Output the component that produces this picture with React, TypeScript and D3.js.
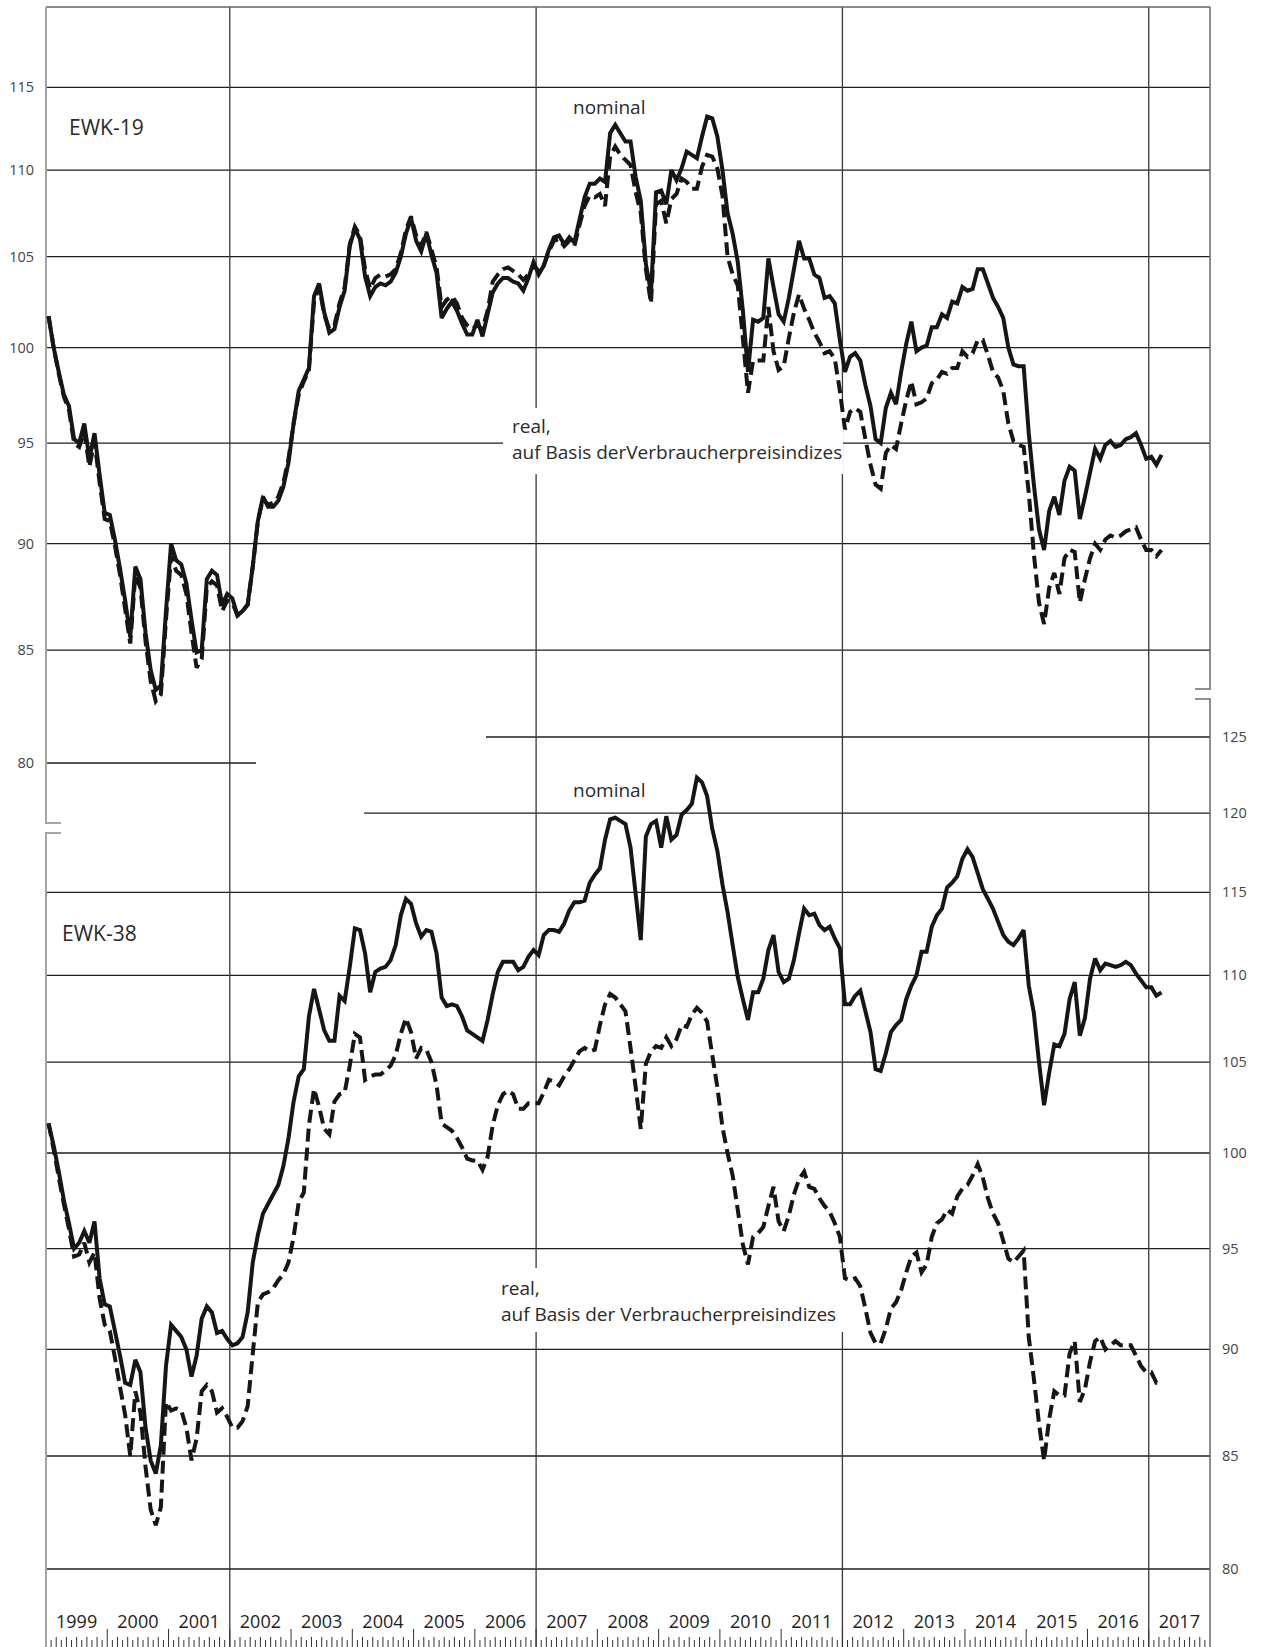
import { useEffect, useRef } from "react";
import * as d3 from "d3";

// Monthly index values, Jan 1999 .. Mar 2017 (1999 Q1 = 100)
const YEARS = d3.range(1999, 2018).map(String);
const TOP_TICKS = [115, 110, 105, 100, 95, 90, 85, 80];
const BOTTOM_TICKS = [125, 120, 115, 110, 105, 100, 95, 90, 85, 80];

const NOMINAL_19 = [
  101.7, 100.0, 98.7, 97.5, 96.9, 95.2, 95.0, 96.0, 94.2, 95.5, 93.4, 91.5,
  91.4, 90.2, 88.8, 87.3, 85.6, 88.9, 88.3, 85.8, 84.1, 83.2, 83.4, 86.8,
  90.0, 89.2, 89.0, 88.1, 86.4, 84.9, 85.0, 88.3, 88.7, 88.5, 87.1, 87.6,
  87.4, 86.6, 86.8, 87.1, 88.9, 91.1, 92.3, 91.8, 91.8, 92.1, 92.8, 94.0,
  96.0, 97.7, 98.3, 98.9, 102.8, 103.5, 101.9, 100.8, 101.0, 102.2, 103.1, 105.6,
  106.6, 106.0, 103.9, 102.8, 103.3, 103.5, 103.4, 103.6, 104.1, 105.0, 106.3, 107.2,
  105.9, 105.3, 106.3, 105.1, 104.1, 101.6, 102.1, 102.5, 102.0, 101.3, 100.7, 100.7,
  101.5, 100.6, 101.8, 103.0, 103.5, 103.8, 103.8, 103.6, 103.5, 103.1, 103.8, 104.7,
  104.0, 104.5, 105.4, 106.1, 106.2, 105.7, 106.1, 105.8, 107.1, 108.4, 109.2, 109.2,
  109.5, 109.3, 112.2, 112.7, 112.2, 111.7, 111.7, 109.6, 108.2, 104.6, 103.0, 108.7,
  108.8, 108.0, 110.0, 109.4, 110.1, 111.1, 110.9, 110.7, 112.0, 113.2, 113.1, 112.0,
  110.0, 107.5, 106.3, 104.7, 102.0, 98.7, 101.5, 101.4, 101.6, 104.9, 103.3, 101.8,
  101.4, 102.7, 104.3, 105.9, 104.9, 104.9, 104.0, 103.8, 102.7, 102.8, 102.4, 100.4,
  98.7, 99.5, 99.7, 99.3, 98.0, 96.9, 95.2, 95.0, 96.8, 97.6, 97.0, 98.7,
  100.2, 101.4, 99.8, 100.0, 100.1, 101.1, 101.1, 101.8, 101.6, 102.5, 102.4, 103.3,
  103.1, 103.2, 104.3, 104.3, 103.5, 102.7, 102.2, 101.6, 100.0, 99.1, 99.0, 99.0,
  95.5, 92.9, 90.7, 89.7, 91.6, 92.3, 91.4, 93.1, 93.8, 93.6, 91.2, 92.3,
  93.5, 94.7, 94.2, 94.9, 95.1, 94.8, 94.9, 95.2, 95.3, 95.5, 94.9, 94.2,
  94.3, 93.9, 94.4,
];

const REAL_19 = [
  101.7, 100.0, 98.6, 97.4, 96.7, 95.0, 94.8, 95.6, 93.8, 95.1, 93.0, 91.2,
  91.1, 89.9, 88.5, 86.9, 85.3, 88.5, 87.9, 85.4, 83.6, 82.7, 83.0, 86.4,
  89.4, 88.7, 88.5, 87.6, 85.8, 84.2, 84.6, 87.9, 88.2, 88.0, 86.8, 87.3,
  87.2, 86.6, 86.8, 87.1, 88.9, 91.1, 92.2, 91.9, 92.0, 92.3, 93.0, 94.2,
  96.0, 97.5, 98.2, 98.8, 102.5, 103.3, 101.8, 101.0, 101.2, 102.4, 103.3, 105.7,
  106.7, 106.2, 104.3, 103.2, 103.8, 104.0, 103.9, 104.0, 104.3, 105.2, 106.5, 107.3,
  106.2, 105.6, 106.4, 105.4, 104.4, 102.2, 102.6, 102.8, 102.4, 101.6, 101.2, 101.0,
  101.2, 101.0, 102.0, 103.6, 104.0, 104.3, 104.4, 104.2, 104.0, 103.7, 104.0, 104.5,
  104.2, 104.5, 105.3, 105.9, 106.0, 105.6, 105.9, 105.6, 106.8, 107.9, 108.5, 108.4,
  108.6, 107.9, 110.8, 111.4, 110.9, 110.6, 110.3, 108.7, 107.5, 104.3, 102.4, 108.0,
  108.2, 106.9, 108.3, 108.6, 109.5, 109.3, 108.9, 108.9, 110.2, 110.9, 110.8, 110.1,
  108.5, 105.0, 104.0, 103.4, 100.5, 97.6, 99.3, 99.3, 99.3, 102.2, 99.8, 98.8,
  99.0, 100.5, 101.9, 102.9, 102.1, 101.5, 100.8, 100.3, 99.7, 99.8, 99.4, 97.7,
  95.7, 96.6, 96.8, 96.6, 95.2, 93.9, 92.9, 92.7, 94.5, 94.9, 94.7, 96.0,
  97.2, 98.2, 97.0, 97.1, 97.3, 98.1, 98.3, 98.7, 98.6, 98.9, 98.9, 99.8,
  99.5, 99.7, 100.4, 100.4, 99.6, 98.7, 98.4, 97.7, 96.0, 95.1, 94.9, 94.8,
  92.5, 89.5, 87.2, 86.2, 87.9, 88.6, 87.6, 89.3, 89.7, 89.6, 87.2, 88.3,
  89.3, 90.0, 89.7, 90.2, 90.4, 90.3, 90.4, 90.6, 90.7, 90.8, 90.2, 89.7,
  89.7, 89.4, 89.7,
];

const NOMINAL_38 = [
  101.6, 100.4, 99.0, 97.5, 96.3, 95.0, 95.3, 95.9, 95.3, 96.4, 93.5, 92.2,
  92.1, 90.9, 89.7, 88.4, 88.3, 89.5, 88.9, 86.3, 84.8, 84.2, 85.5, 89.2,
  91.2, 90.9, 90.6, 90.0, 88.7, 89.7, 91.5, 92.1, 91.8, 90.8, 90.9, 90.5,
  90.2, 90.3, 90.6, 91.8, 94.3, 95.7, 96.8, 97.3, 97.8, 98.3, 99.3, 100.8,
  102.8, 104.2, 104.6, 107.6, 109.2, 108.0, 106.8, 106.2, 106.2, 108.8, 108.5, 110.5,
  112.8, 112.7, 111.3, 109.0, 110.2, 110.4, 110.5, 110.9, 111.8, 113.6, 114.6, 114.3,
  113.1, 112.3, 112.7, 112.6, 111.3, 108.7, 108.2, 108.3, 108.2, 107.6, 106.8, 106.6,
  106.4, 106.2, 107.4, 108.9, 110.2, 110.8, 110.8, 110.8, 110.3, 110.5, 111.1, 111.5,
  111.2, 112.4, 112.7, 112.7, 112.6, 113.1, 113.9, 114.4, 114.4, 114.5, 115.6, 116.1,
  116.5, 118.3, 119.6, 119.7, 119.5, 119.3, 117.8, 114.9, 112.1, 118.5, 119.3, 119.5,
  117.8, 119.8, 118.3, 118.6, 119.9, 120.2, 120.6, 122.3, 122.0, 121.1, 119.0, 117.6,
  115.5, 113.8, 111.8, 109.9, 108.6, 107.4, 109.0, 109.0, 109.8, 111.5, 112.4, 110.2,
  109.6, 109.8, 110.9, 112.5, 114.0, 113.6, 113.7, 113.0, 112.7, 112.9, 112.2, 111.6,
  108.3, 108.3, 108.8, 109.1, 107.9, 106.7, 104.6, 104.5, 105.5, 106.7, 107.1, 107.4,
  108.6, 109.4, 110.0, 111.4, 111.4, 112.9, 113.6, 114.0, 115.3, 115.6, 116.0, 117.1,
  117.7, 117.2, 116.2, 115.2, 114.6, 114.0, 113.2, 112.4, 112.0, 111.8, 112.2, 112.7,
  109.4, 107.8, 105.0, 102.6, 104.4, 106.0, 105.9, 106.6, 108.6, 109.6, 106.5, 107.5,
  109.8, 111.0, 110.3, 110.7, 110.6, 110.5, 110.6, 110.8, 110.6, 110.1, 109.7, 109.3,
  109.3, 108.8, 109.0,
];

const REAL_38 = [
  101.6, 100.2, 98.7, 97.3, 96.0, 94.6, 94.7, 95.3, 94.3, 94.8, 92.5, 91.2,
  90.9, 89.6, 88.2, 86.9, 85.0, 88.0, 87.0, 84.5, 82.6, 81.9, 82.7, 87.5,
  87.1, 87.2, 87.1, 86.3, 84.8, 85.8, 88.0, 88.3, 88.0, 87.0, 87.2, 86.8,
  86.3, 86.3, 86.6, 87.3, 89.8, 92.3, 92.7, 92.8, 93.0, 93.4, 93.7, 94.3,
  95.6, 97.4, 97.9, 101.5, 103.5, 102.5, 101.3, 101.0, 102.8, 103.2, 103.3, 104.8,
  106.6, 106.4, 104.0, 104.2, 104.3, 104.3, 104.5, 104.8, 105.4, 106.6, 107.5, 106.7,
  105.2, 105.8, 105.7, 105.0, 103.7, 101.6, 101.4, 101.2, 100.8, 100.3, 99.7, 99.6,
  99.6, 99.1, 99.8, 101.5, 102.6, 103.2, 103.4, 103.2, 102.4, 102.4, 102.7, 102.7,
  102.7, 103.3, 104.0, 103.9, 103.7, 104.2, 104.6, 105.1, 105.6, 105.8, 105.6, 105.7,
  107.1, 108.3, 108.9, 108.7, 108.3, 107.9, 105.8, 103.6, 101.3, 104.9, 105.6, 105.9,
  105.8, 106.4, 105.9, 106.3, 107.1, 107.0, 107.7, 108.1, 107.8, 107.3, 105.4, 103.6,
  101.4, 100.0, 98.8, 97.0, 95.2, 94.2, 95.6, 95.8, 96.1, 97.2, 98.2, 96.4,
  95.9, 96.7, 97.8, 98.6, 99.0, 98.2, 98.1, 97.6, 97.2, 96.9, 96.3, 95.6,
  93.5, 93.4, 93.5, 93.1, 92.0, 90.8, 90.3, 90.3, 91.0, 92.0, 92.3, 92.9,
  93.8, 94.6, 94.8, 93.8, 94.2, 95.6, 96.3, 96.5, 97.0, 96.8, 97.7, 98.1,
  98.3, 98.8, 99.4, 98.7, 97.6, 96.8, 96.3, 95.4, 94.5, 94.3, 94.6, 94.9,
  90.6, 88.6, 86.5, 84.8, 86.7, 88.0, 87.8, 87.8, 89.8, 90.4, 87.5, 88.1,
  89.4, 90.4, 90.6, 90.0, 90.2, 90.4, 90.2, 90.2, 90.2, 89.7, 89.2, 88.9,
  88.9, 88.4, 88.4,
];

const W = 1262;
const H = 1647;
const FONT = "'Open Sans', 'Noto Sans', sans-serif";

export default function App() {
  const svgRef = useRef<SVGSVGElement>(null);

  useEffect(() => {
    if (!svgRef.current) return;
    const svg = d3.select(svgRef.current);
    svg.selectAll("*").remove();

    const left = 46;
    const right = 1210;
    const months = YEARS.length * 12;
    const x = d3.scaleLinear().domain([0, months]).range([left, right]);
    const yTop = d3.scaleLog().domain([80, 115]).range([763, 87.3]);
    const yBot = d3.scaleLog().domain([80, 125]).range([1569, 737]);

    svg.append("rect").attr("width", W).attr("height", H).attr("fill", "#fff");

    // horizontal grid, top panel (left scale)
    const gTop = svg.append("g");
    TOP_TICKS.forEach((v) => {
      const y = yTop(v);
      gTop.append("line")
        .attr("x1", left).attr("x2", v === 80 ? 256 : right)
        .attr("y1", y).attr("y2", y)
        .attr("stroke", "#1e1e1e").attr("stroke-width", 1.3);
      gTop.append("text")
        .attr("x", 34).attr("y", y + 5)
        .attr("text-anchor", "end")
        .attr("font-size", 14.5).attr("fill", "#444")
        .attr("font-family", FONT)
        .text(v);
    });

    // horizontal grid, bottom panel (right scale)
    const gBot = svg.append("g");
    BOTTOM_TICKS.forEach((v) => {
      const y = yBot(v);
      const x1 = v === 125 ? 486 : v === 120 ? 364 : left;
      gBot.append("line")
        .attr("x1", x1).attr("x2", right)
        .attr("y1", y).attr("y2", y)
        .attr("stroke", "#1e1e1e").attr("stroke-width", 1.3);
      gBot.append("text")
        .attr("x", 1222).attr("y", y + 5)
        .attr("font-size", 14.5).attr("fill", "#444")
        .attr("font-family", FONT)
        .text(v);
    });

    // vertical lines every five years
    [2002, 2007, 2012, 2017].forEach((yr) => {
      const xv = x((yr - 1999) * 12);
      svg.append("line")
        .attr("x1", xv).attr("x2", xv)
        .attr("y1", 7).attr("y2", H)
        .attr("stroke", "#3a3a3a").attr("stroke-width", 1.3);
    });

    // frame: top border, split left/right axes
    const frame = svg.append("g").attr("fill", "none");
    frame.append("line").attr("x1", left).attr("x2", right).attr("y1", 7).attr("y2", 7)
      .attr("stroke", "#666").attr("stroke-width", 1.6);
    frame.append("path").attr("d", `M${left},7V823H61`).attr("stroke", "#a5a5a5").attr("stroke-width", 2);
    frame.append("path").attr("d", `M61,833H${left}V${H}`).attr("stroke", "#a5a5a5").attr("stroke-width", 2);
    frame.append("path").attr("d", `M${right},7V689H1195`).attr("stroke", "#6a6a6a").attr("stroke-width", 1.5);
    frame.append("path").attr("d", `M1195,699H${right}V${H}`).attr("stroke", "#6a6a6a").attr("stroke-width", 1.5);

    // month / year ticks at bottom
    const ticks = svg.append("g").attr("stroke", "#333").attr("stroke-width", 1);
    d3.range(1, months).forEach((m) => {
      const xv = x(m);
      const y1 = m % 12 === 0 ? 1629 : m % 2 === 0 ? 1637 : 1640;
      ticks.append("line").attr("x1", xv).attr("x2", xv).attr("y1", y1).attr("y2", H);
    });

    // year labels
    svg.append("g")
      .selectAll("text")
      .data(YEARS)
      .join("text")
      .attr("x", (_, i) => x(i * 12 + 6))
      .attr("y", 1628)
      .attr("text-anchor", "middle")
      .attr("font-size", 18)
      .attr("font-weight", 500)
      .attr("fill", "#222")
      .attr("font-family", FONT)
      .text((d) => d);

    // label boxes that knock out the grid
    svg.append("rect").attr("x", 503).attr("y", 408).attr("width", 340).attr("height", 66).attr("fill", "#fff");
    svg.append("rect").attr("x", 493).attr("y", 1268).attr("width", 352).attr("height", 64).attr("fill", "#fff");

    // series
    const lineTop = d3.line<number>().x((_, i) => x(i + 0.5)).y((d) => yTop(d));
    const lineBot = d3.line<number>().x((_, i) => x(i + 0.5)).y((d) => yBot(d));
    const series = [
      { data: REAL_19, gen: lineTop, dash: "13,6" },
      { data: NOMINAL_19, gen: lineTop, dash: null },
      { data: REAL_38, gen: lineBot, dash: "13,6" },
      { data: NOMINAL_38, gen: lineBot, dash: null },
    ];
    series.forEach((s) => {
      svg.append("path")
        .attr("d", s.gen(s.data))
        .attr("fill", "none")
        .attr("stroke", "#161616")
        .attr("stroke-width", 4)
        .attr("stroke-miterlimit", 3)
        .attr("stroke-dasharray", s.dash);
    });

    // annotations
    const txt = (tx: number, ty: number, s: string, size = 19, weight = 400) =>
      svg.append("text")
        .attr("x", tx).attr("y", ty)
        .attr("font-size", size).attr("font-weight", weight)
        .attr("fill", "#2a2a2a").attr("font-family", FONT)
        .text(s);

    txt(69, 135, "EWK-19", 21, 500);
    txt(573, 114, "nominal");
    txt(512, 433, "real,");
    txt(512, 459, "auf Basis derVerbraucherpreisindizes");

    txt(62, 941, "EWK-38", 21, 500);
    txt(573, 797, "nominal");
    txt(501, 1295, "real,");
    txt(501, 1321, "auf Basis der Verbraucherpreisindizes");
  }, []);

  return (
    <svg
      ref={svgRef}
      width={W}
      height={H}
      style={{ position: "absolute", left: 0, top: 0, display: "block" }}
    />
  );
}
